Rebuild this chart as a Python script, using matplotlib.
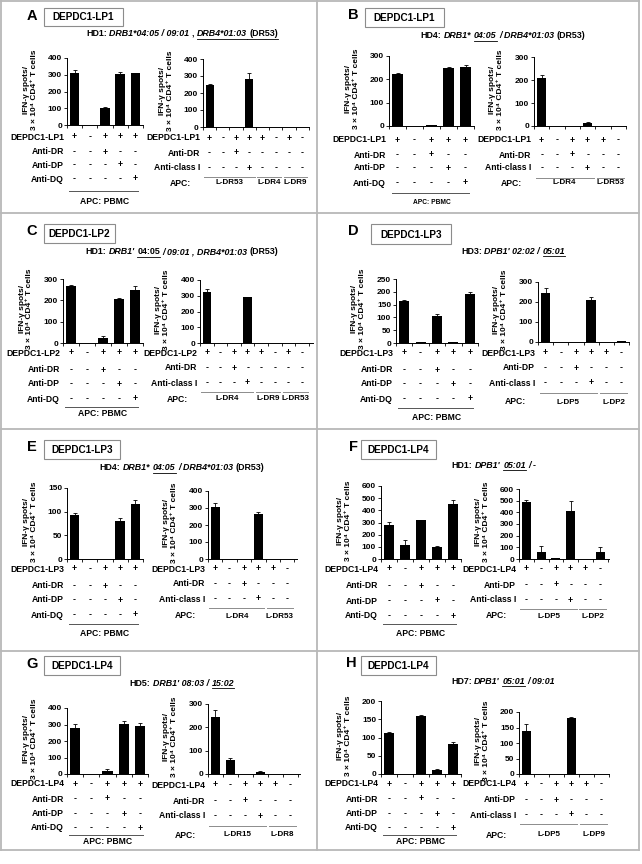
import numpy as np
import matplotlib
matplotlib.use("Agg")
import matplotlib.pyplot as plt
import matplotlib.transforms as mtransforms
from matplotlib.lines import Line2D
from matplotlib.patches import Rectangle

plt.rcParams['font.family'] = ['Liberation Sans', 'DejaVu Sans']
plt.rcParams['font.weight'] = 'bold'

# ---------------- data ----------------
letters = ["A", "B", "C", "D", "E", "F", "G", "H"]
peptides = ["DEPDC1-LP1", "DEPDC1-LP1", "DEPDC1-LP2", "DEPDC1-LP3",
            "DEPDC1-LP3", "DEPDC1-LP4", "DEPDC1-LP4", "DEPDC1-LP4"]

titles = [
    [("HD1: ", ""), ("DRB1*04:05 / 09:01", "i"), (" , ", ""), ("DRB4*01:03", "iu"), (" (DR53)", "u")],
    [("HD4: ", ""), ("DRB1* ", "i"), ("04:05", "iu"), (" / DRB4*01:03", "i"), (" (DR53)", "")],
    [("HD1: ", ""), ("DRB1' ", "i"), ("04:05", "u"), (" / 09:01 , DRB4*01:03", "i"), (" (DR53)", "")],
    [("HD3: ", ""), ("DPB1' 02:02 / ", "i"), ("05:01", "iu")],
    [("HD4: ", ""), ("DRB1* ", "i"), ("04:05", "iu"), (" / DRB4*01:03", "i"), (" (DR53)", "")],
    [("HD1: ", ""), ("DPB1' ", "i"), ("05:01", "iu"), (" / -", "i")],
    [("HD5: ", ""), ("DRB1' 08:03 / ", "i"), ("15:02", "iu")],
    [("HD7: ", ""), ("DPB1' ", "i"), ("05:01", "iu"), (" / 09:01", "i")],
]

# PBMC blocking (left charts)
left_vals = [[310, 0, 100, 305, 310],
             [225, 0, 5, 248, 252],
             [265, 0, 22, 205, 250],
             [165, 3, 105, 3, 192],
             [92, 1, 0, 81, 117],
             [280, 112, 320, 102, 455],
             [280, 0, 20, 302, 290],
             [113, 0, 160, 10, 82]]
left_err = [[20, 0, 5, 12, 2],
            [3, 0, 1, 3, 10],
            [6, 0, 12, 8, 15],
            [3, 0, 8, 0, 7],
            [6, 0, 0, 6, 8],
            [25, 45, 3, 3, 30],
            [25, 0, 8, 20, 20],
            [3, 0, 2, 5, 5]]
left_ymax = [400, 300, 300, 250, 150, 600, 400, 200]
left_step = [100, 100, 100, 50, 50, 100, 100, 50]

left_pep = ["+", "-", "+", "+", "+"]
left_row_names = ["Anti-DR", "Anti-DP", "Anti-DQ"]
left_signs = [["-", "-", "+", "-", "-"],
              ["-", "-", "-", "+", "-"],
              ["-", "-", "-", "-", "+"]]

# L-cell charts (right)
right_vals = [[245, 0, 0, 280, 0, 0, 0, 0],
              [210, 0, 0, 12, 0, 0],
              [325, 0, 0, 290, 0, 0, 0, 0],
              [245, 2, 2, 208, 2, 4],
              [303, 0, 0, 267, 0, 0],
              [488, 62, 8, 415, 3, 60],
              [243, 60, 2, 8, 0, 2],
              [140, 0, 1, 180, 0, 0]]
right_err = [[8, 0, 0, 35, 0, 0, 0, 0],
             [10, 0, 0, 4, 0, 0],
             [20, 0, 0, 0, 0, 0, 0, 0],
             [25, 0, 0, 18, 0, 0],
             [25, 0, 0, 10, 0, 0],
             [18, 50, 0, 85, 0, 40],
             [30, 10, 0, 3, 0, 0],
             [20, 0, 0, 5, 0, 0]]
right_ymax = [400, 300, 400, 300, 400, 600, 300, 200]
right_step = [100, 100, 100, 100, 100, 100, 100, 50]
right_anti = ["Anti-DR", "Anti-DR", "Anti-DR", "Anti-DP",
              "Anti-DR", "Anti-DP", "Anti-DR", "Anti-DP"]
right_pep8 = ["+", "-", "+", "+", "+", "-", "+", "-"]
right_pep6 = ["+", "-", "+", "+", "+", "-"]
right_anti_signs = ["-", "-", "+", "-", "-", "-", "-", "-"]
right_cls_signs = ["-", "-", "-", "+", "-", "-", "-", "-"]
right_groups = [[("L-DR53", 0, 3), ("L-DR4", 4, 5), ("L-DR9", 6, 7)],
                [("L-DR4", 0, 3), ("L-DR53", 4, 5)],
                [("L-DR4", 0, 3), ("L-DR9", 4, 5), ("L-DR53", 6, 7)],
                [("L-DP5", 0, 3), ("L-DP2", 4, 5)],
                [("L-DR4", 0, 3), ("L-DR53", 4, 5)],
                [("L-DP5", 0, 3), ("L-DP2", 4, 5)],
                [("L-DR15", 0, 3), ("L-DR8", 4, 5)],
                [("L-DP5", 0, 3), ("L-DP9", 4, 5)]]

ylab1 = "IFN-γ spots/"
ylab2 = "3 × 10⁴ CD4⁺ T cells"

# ---------------- layout (pixels) ----------------
origins = [(0, 0), (321, 0), (0, 216), (321, 216),
           (0, 432), (321, 432), (0, 648), (321, 648)]
lay = [
    dict(letter=(32, 16), box=(44, 8, 123, 26), title=(182, 34),
         L=(67, 143, 58, 125, 71, 137), Lrows=(137, 152, 165, 179), Lline=191, Lapc=202,
         R=(203, 309, 59, 127, 207, 302), Rrows=(138, 153, 168), Rline=177, Rapc=183),
    dict(letter=(32, 15), box=(44, 8, 123, 27), title=(182, 36),
         L=(68, 153, 56, 126, 76, 147), Lrows=(140, 155, 168, 183), Lline=193, Lapc=202,
         R=(213, 305, 57, 126, 218, 298), Rrows=(140, 155, 168), Rline=178, Rapc=183),
    dict(letter=(32, 15), box=(44, 8, 115, 27), title=(182, 36),
         L=(63, 143, 63, 127, 71, 137), Lrows=(137, 154, 168, 183), Lline=191, Lapc=197,
         R=(200, 313, 64, 127, 206, 302), Rrows=(137, 152, 167), Rline=176, Rapc=183),
    dict(letter=(32, 15), box=(50, 8, 130, 28), title=(192, 35),
         L=(75, 157, 63, 127, 80, 152), Lrows=(137, 154, 168, 183), Lline=192, Lapc=202,
         R=(217, 308, 66, 126, 223, 301), Rrows=(137, 152, 167), Rline=177, Rapc=186),
    dict(letter=(32, 15), box=(44, 8, 120, 27), title=(182, 36),
         L=(67, 143, 56, 127, 71, 138), Lrows=(137, 154, 168, 183), Lline=192, Lapc=202,
         R=(208, 297, 59, 127, 214, 287), Rrows=(137, 152, 167), Rline=176, Rapc=184),
    dict(letter=(32, 15), box=(40, 8, 115, 27), title=(173, 33),
         L=(60, 140, 54, 127, 67, 135), Lrows=(137, 154, 169, 184), Lline=192, Lapc=202,
         R=(198, 288, 57, 127, 204, 279), Rrows=(137, 153, 168), Rline=177, Rapc=184),
    dict(letter=(32, 16), box=(44, 8, 120, 27), title=(182, 35),
         L=(67, 148, 60, 126, 71, 143), Lrows=(136, 151, 166, 180), Lline=187, Lapc=194,
         R=(208, 300, 56, 126, 214, 290), Rrows=(137, 153, 168), Rline=178, Rapc=187),
    dict(letter=(30, 15), box=(40, 8, 115, 27), title=(182, 33),
         L=(60, 140, 53, 126, 67, 135), Lrows=(136, 151, 166, 180), Lline=187, Lapc=194,
         R=(198, 288, 64, 126, 205, 280), Rrows=(136, 152, 167), Rline=176, Rapc=187),
]

W, H = 642, 864
fig = plt.figure(figsize=(W / 100, H / 100), dpi=100)
fig.patch.set_facecolor("white")
pix = mtransforms.Affine2D().scale(1 / W, -1 / H).translate(0, 1) + fig.transFigure
renderer = fig.canvas.get_renderer()

FS_TICK = 6.0
FS_ROW = 6.2
FS_GROUP = 5.8
FS_TITLE = 6.4

# frame
frame_c = "#b8b8b8"
for (x0, y0, x1, y1) in [(1, 1, 639, 1), (1, 850, 639, 850), (1, 1, 1, 850), (639, 1, 639, 850),
                         (317, 1, 317, 850), (1, 213, 639, 213), (1, 429, 639, 429), (1, 651, 639, 651)]:
    fig.add_artist(Line2D([x0, x1], [y0, y1], transform=pix, color=frame_c, lw=1.3))


def text_w(s, style):
    kw = dict(fontsize=FS_TITLE, fontweight='bold', fontstyle='italic' if 'i' in style else 'normal')
    t1 = fig.text(0, 0, "l" + s + "l", **kw)
    t2 = fig.text(0, 0, "ll", **kw)
    w = t1.get_window_extent(renderer).width - t2.get_window_extent(renderer).width
    t1.remove()
    t2.remove()
    return w


def rich_title(cx, cy, segments):
    widths = [text_w(s, st) for s, st in segments]
    x = cx - sum(widths) / 2
    for (s, st), w in zip(segments, widths):
        lead = len(s) - len(s.lstrip(" "))
        core = s.strip(" ")
        xl = x + (text_w(" " * lead, st) if lead else 0)
        wc = text_w(core, st)
        fig.text(xl, cy, core, transform=pix, fontsize=FS_TITLE, fontweight='bold',
                 fontstyle='italic' if 'i' in st else 'normal', ha='left', va='center')
        if 'u' in st:
            fig.add_artist(Line2D([x, xl + wc], [cy + 4.5, cy + 4.5], transform=pix,
                                  color='black', lw=0.6))
        x += w


def make_axes(ox, oy, geom, vals, err, ymax, step):
    x0, x1, yt, yb, b0, bl = geom
    n = len(vals)
    ax = fig.add_axes([(ox + x0) / W, 1 - (oy + yb) / H, (x1 - x0) / W, (yb - yt) / H])
    s = (bl - b0) / (n - 1)
    ax.set_xlim((x0 - b0) / s, (x1 - b0) / s)
    ax.set_ylim(0, ymax)
    xs = np.arange(n)
    ax.bar(xs, vals, width=0.62, color='black', zorder=2)
    e = np.array(err, dtype=float)
    m = e > 0
    if m.any():
        ax.errorbar(xs[m], np.array(vals)[m], yerr=[np.zeros(m.sum()), e[m]], fmt='none',
                    ecolor='black', elinewidth=0.6, capsize=1.5, capthick=0.6, zorder=3)
    ax.set_yticks(np.arange(0, ymax + 1, step))
    ax.set_xticks(np.arange(n + 1) - 0.5)
    ax.set_xticklabels([])
    ax.tick_params(axis='y', length=2, width=0.6, pad=1.5, labelsize=FS_TICK)
    ax.tick_params(axis='x', length=2, width=0.6, direction='out')
    for sp in ['top', 'right']:
        ax.spines[sp].set_visible(False)
    for sp in ['left', 'bottom']:
        ax.spines[sp].set_linewidth(0.7)
    ax.patch.set_alpha(0)
    # y label (two lines)
    yc = oy + (yt + yb) / 2 - 2
    fig.text(ox + x0 - 41, yc, ylab1, transform=pix, rotation=90, fontsize=FS_TICK,
             ha='center', va='center', fontweight='bold')
    fig.text(ox + x0 - 33, yc, ylab2, transform=pix, rotation=90, fontsize=FS_TICK,
             ha='center', va='center', fontweight='bold')
    return ax


def sign_row(ax, ox, oy, x0, y, label, signs):
    tr = mtransforms.blended_transform_factory(ax.transData, pix)
    fig.text(ox + x0 - 3, oy + y, label, transform=pix, fontsize=FS_ROW,
             ha='right', va='center', fontweight='bold')
    for i, sg in enumerate(signs):
        ax.text(i, oy + y, sg, transform=tr, fontsize=FS_ROW, ha='center', va='center',
                fontweight='bold', clip_on=False)


for k in range(8):
    ox, oy = origins[k]
    L = lay[k]
    # panel letter and peptide box
    fig.text(ox + L['letter'][0], oy + L['letter'][1], letters[k], transform=pix,
             fontsize=10.5, fontweight='bold', ha='center', va='center')
    bx0, by0, bx1, by1 = L['box']
    fig.add_artist(Rectangle((ox + bx0, oy + by0), bx1 - bx0, by1 - by0, transform=pix,
                             facecolor='white', edgecolor='#8c8c8c', lw=0.8))
    fig.text(ox + (bx0 + bx1) / 2, oy + (by0 + by1) / 2 + 0.5, peptides[k], transform=pix,
             fontsize=7.2, fontweight='bold', ha='center', va='center')
    rich_title(ox + L['title'][0], oy + L['title'][1], titles[k])

    # left chart (PBMC)
    axl = make_axes(ox, oy, L['L'], left_vals[k], left_err[k], left_ymax[k], left_step[k])
    x0 = L['L'][0]
    sign_row(axl, ox, oy, x0, L['Lrows'][0], peptides[k], left_pep)
    for r in range(3):
        sign_row(axl, ox, oy, x0, L['Lrows'][r + 1], left_row_names[r], left_signs[r])
    trl = mtransforms.blended_transform_factory(axl.transData, pix)
    n = len(left_vals[k])
    axl.add_artist(Line2D([-0.35, n - 1 + 0.2], [oy + L['Lline']] * 2, transform=trl,
                          color='#555555', lw=0.7, clip_on=False))
    axl.text((n - 1) / 2, oy + L['Lapc'], "APC: PBMC", transform=trl,
             fontsize=FS_ROW if k != 1 else 4.8, ha='center', va='center',
             fontweight='bold', clip_on=False)

    # right chart (L cells)
    axr = make_axes(ox, oy, L['R'], right_vals[k], right_err[k], right_ymax[k], right_step[k])
    n = len(right_vals[k])
    x0 = L['R'][0]
    pep = right_pep8 if n == 8 else right_pep6
    sign_row(axr, ox, oy, x0, L['Rrows'][0], peptides[k], pep)
    sign_row(axr, ox, oy, x0, L['Rrows'][1], right_anti[k], right_anti_signs[:n])
    sign_row(axr, ox, oy, x0, L['Rrows'][2], "Anti-class I", right_cls_signs[:n])
    trr = mtransforms.blended_transform_factory(axr.transData, pix)
    fig.text(ox + x0 - 12, oy + L['Rapc'], "APC:", transform=pix, fontsize=FS_ROW,
             ha='right', va='center', fontweight='bold')
    for name, s0, s1 in right_groups[k]:
        axr.add_artist(Line2D([s0 - 0.4, s1 + 0.4], [oy + L['Rline']] * 2, transform=trr,
                              color='#8c8c8c', lw=0.7, clip_on=False))
        axr.text((s0 + s1) / 2, oy + L['Rapc'], name, transform=trr, fontsize=FS_GROUP,
                 ha='center', va='center', fontweight='bold', clip_on=False)

fig.savefig("out.png", dpi=100, facecolor="white")
